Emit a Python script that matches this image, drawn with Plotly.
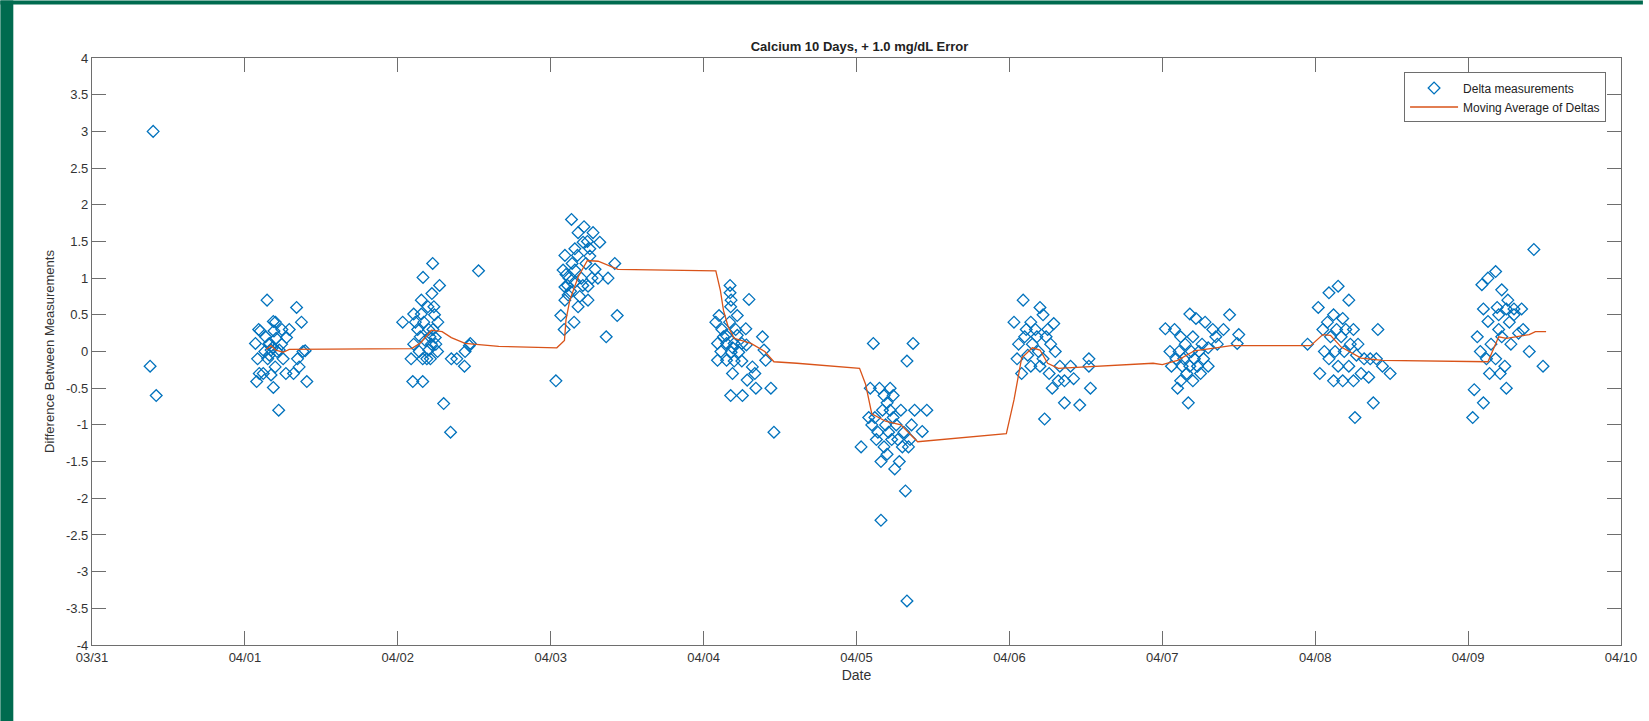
import pandas as pd
import plotly.graph_objects as go

# Sample times, in days after 03/31 00:00, and the delta of each measurement pair
delta_days = [
    0.40, 0.38, 0.42,
    1.145, 1.338, 1.370, 1.090, 1.186, 1.200, 1.242, 1.290, 1.272, 1.069, 1.160, 1.171, 1.225, 1.394, 1.380,
    1.344, 1.083, 1.149, 1.198, 1.355, 1.094, 1.268, 1.318, 1.171, 1.077, 1.405, 1.186, 1.221, 1.100, 1.130,
    1.180, 1.210, 1.160, 1.250, 1.135, 1.205, 1.240, 1.190, 1.120, 1.155,
    2.228, 2.528, 2.165, 2.273, 2.223, 2.154, 2.197, 2.236, 2.104, 2.154, 2.032, 2.115, 2.262, 2.202, 2.230,
    2.147, 2.245, 2.104, 2.249, 2.474, 2.468, 2.202, 2.440, 2.087, 2.163, 2.213, 2.350, 2.386, 2.436, 2.098,
    2.163, 2.300, 2.345, 2.180, 2.210, 2.130, 2.260, 2.190, 2.220, 2.170, 2.140, 2.240,
    3.136, 3.218, 3.179, 3.277, 3.321, 3.212, 3.158, 3.256, 3.093, 3.175, 3.256, 3.419, 3.081, 3.158, 3.290,
    3.200, 3.309, 3.375, 3.093, 3.244, 3.114, 3.190, 3.244, 3.093, 3.179, 3.066, 3.435, 3.153, 3.088, 3.363,
    3.034, 3.120, 3.140, 3.230, 3.100, 3.210, 3.130, 3.160, 3.270, 3.240, 3.110,
    4.173, 4.173, 4.297, 4.180, 4.177, 4.101, 4.220, 4.080, 4.170, 4.276, 4.147, 4.220, 4.385, 4.091, 4.150,
    4.200, 4.250, 4.280, 4.395, 4.113, 4.180, 4.230, 4.091, 4.150, 4.200, 4.250, 4.406, 4.319, 4.189, 4.335,
    4.285, 4.342, 4.440, 4.177, 4.254, 4.460, 4.120, 4.210, 4.130, 4.190,
    5.11, 5.37, 5.33, 5.03, 5.09, 5.16, 5.32, 5.33, 5.28, 5.43, 5.46, 5.38, 5.25, 5.15, 5.18, 5.20, 5.22,
    5.24, 5.17, 5.12, 5.10, 5.14, 5.19, 5.21, 5.26, 5.23, 5.18, 5.13, 5.30, 5.27, 5.29, 5.31, 5.35, 5.08,
    5.20, 5.16, 5.24, 5.22, 5.34, 5.36,
    6.09, 6.20, 6.22, 6.03, 6.29, 6.14, 6.17, 6.10, 6.24, 6.15, 6.27, 6.06, 6.19, 6.12, 6.30, 6.22, 6.08,
    6.14, 6.26, 6.32, 6.36, 6.23, 6.46, 6.36, 6.53, 6.52, 6.52, 6.40, 6.42, 6.18, 6.25, 6.11, 6.33, 6.28,
    6.05, 6.20,
    7.18, 7.44, 7.50, 7.02, 7.17, 7.10, 7.49, 7.08, 7.22, 7.28, 7.33, 7.12, 7.20, 7.26, 7.15, 7.05, 7.11,
    7.19, 7.24, 7.30, 7.36, 7.09, 7.14, 7.21, 7.27, 7.06, 7.13, 7.18, 7.23, 7.30, 7.16, 7.25, 7.12, 7.35,
    7.40, 7.20,
    8.15, 8.09, 8.22, 8.02, 7.95, 8.26, 8.38, 8.41, 8.49, 8.12, 8.18, 8.08, 8.14, 8.20, 8.25, 8.05, 8.10,
    8.17, 8.23, 8.28, 8.06, 8.13, 8.19, 8.27, 8.32, 8.36, 8.40, 8.09, 8.15, 8.22, 8.30, 8.12, 8.18, 8.25,
    8.35, 8.03, 8.44,
    9.43, 9.18, 9.13, 9.09, 9.22, 9.10, 9.25, 9.30, 9.35, 9.13, 9.06, 9.04, 9.03, 9.10, 9.25, 9.40, 9.49,
    9.20, 9.27, 9.33, 9.08, 9.15, 9.22, 9.18, 9.24, 9.28, 9.21, 9.14, 9.36, 9.19, 9.26, 9.30, 9.12, 9.20,
]
delta_values = [
    3.0, -0.2, -0.6,
    0.70, 0.60, 0.40, 0.30, 0.41, 0.40, 0.30, 0.30, 0.19, 0.11, 0.11, 0.02, 0.02, 0.01, 0.00,
    -0.10, -0.10, -0.10, -0.21, -0.21, -0.30, -0.30, -0.30, -0.32, -0.41, -0.41, -0.49, -0.80, 0.28, 0.00,
    0.05, 0.00, -0.05, -0.10, 0.20, 0.18, 0.10, 0.28, -0.30, 0.10,
    1.20, 1.10, 1.01, 0.90, 0.79, 0.70, 0.61, 0.61, 0.51, 0.51, 0.40, 0.40, 0.40, 0.30, 0.30,
    0.20, 0.19, 0.10, 0.10, 0.11, 0.08, 0.02, 0.00, -0.10, -0.10, -0.10, -0.10, -0.10, -0.20, -0.41,
    -0.41, -0.71, -1.10, 0.15, 0.20, 0.30, 0.00, -0.10, 0.10, 0.40, 0.00, 0.50,
    1.80, 1.70, 1.62, 1.62, 1.49, 1.49, 1.40, 1.40, 1.31, 1.31, 1.30, 1.20, 1.11, 1.11, 1.12,
    1.00, 1.00, 1.00, 0.88, 0.89, 0.77, 0.75, 0.70, 0.70, 0.61, 0.49, 0.49, 0.40, 0.30, 0.20,
    -0.40, 1.00, 1.20, 1.20, 1.05, 0.90, 0.82, 0.95, 1.00, 1.50, 0.90,
    0.90, 0.80, 0.71, 0.70, 0.61, 0.49, 0.49, 0.40, 0.40, 0.31, 0.22, 0.22, 0.20, 0.11, 0.11,
    0.11, 0.11, 0.09, 0.02, 0.00, -0.01, -0.01, -0.12, -0.12, -0.13, -0.13, -0.12, -0.21, -0.30, -0.30,
    -0.39, -0.50, -0.50, -0.60, -0.60, -1.10, 0.30, 0.30, 0.20, 0.05,
    0.11, 0.11, -0.13, -1.30, -0.50, -2.30, -1.90, -3.40, -1.50, -1.09, -0.80, -0.80, -1.60, -0.50, -0.60, -0.70, -0.80,
    -0.90, -0.80, -0.90, -1.00, -1.10, -1.00, -1.10, -1.00, -1.20, -1.30, -1.20, -1.30, -1.20, -0.80, -1.10, -1.20, -0.90,
    -1.40, -1.50, -0.60, -0.50, -1.30, -1.00,
    0.70, 0.60, 0.50, 0.40, 0.38, 0.40, 0.30, 0.20, 0.20, 0.10, 0.10, 0.10, 0.00, -0.05, 0.00, -0.10, -0.30,
    -0.20, -0.30, -0.40, -0.40, -0.92, -0.73, -0.70, -0.50, -0.10, -0.20, -0.20, -0.37, 0.20, 0.30, 0.30, -0.20, -0.50,
    -0.10, -0.20,
    0.51, 0.50, 0.23, 0.31, -0.70, -0.50, 0.11, 0.30, 0.45, 0.40, 0.30, 0.20, 0.20, 0.10, 0.10, 0.00, 0.00,
    0.00, 0.00, 0.05, 0.10, -0.10, -0.10, -0.10, -0.10, -0.20, -0.20, -0.20, -0.20, -0.20, -0.30, -0.30, -0.40, 0.20,
    0.30, -0.40,
    0.89, 0.80, 0.70, 0.60, 0.10, -0.90, -0.70, 0.30, -0.30, 0.50, 0.45, 0.40, 0.30, 0.30, 0.30, 0.30, 0.20,
    0.20, 0.10, 0.10, 0.00, 0.00, 0.00, -0.05, -0.10, -0.10, -0.10, -0.10, -0.20, -0.20, -0.30, -0.40, -0.40, -0.40,
    -0.35, -0.30, -0.20,
    1.39, 1.09, 1.00, 0.91, 0.84, 0.58, 0.58, 0.58, 0.58, 0.41, 0.20, -0.52, -0.90, -0.70, -0.50, 0.00, -0.20,
    0.30, 0.40, 0.25, 0.00, 0.10, 0.20, -0.10, -0.20, 0.10, -0.30, -0.30, 0.30, 0.60, 0.70, 0.50, -0.10, 0.50,
]

# Moving average of the deltas
avg_days = [
    1.14, 1.17, 1.20, 1.25, 1.29, 1.35, 2.09, 2.15, 2.22, 2.29, 2.35, 2.44, 2.66, 3.04, 3.09, 3.10, 3.125,
    3.18, 3.24, 3.31, 3.375, 3.44, 4.08, 4.11, 4.13, 4.16, 4.20, 4.31, 4.40, 4.46, 4.61, 5.02, 5.06, 5.10,
    5.19, 5.29, 5.40, 5.98, 6.03, 6.08, 6.15, 6.20, 6.25, 6.32, 6.94, 7.00, 7.10, 7.21, 7.35, 7.45, 7.97,
    8.05, 8.10, 8.17, 8.30, 8.44, 9.13, 9.20, 9.25, 9.40, 9.44, 9.51,
]
avg_values = [
    0.03, 0.08, 0.02, -0.01, 0.03, 0.03, 0.04, 0.12, 0.29, 0.27, 0.19, 0.11, 0.07, 0.05, 0.15, 0.43, 0.70,
    1.02, 1.24, 1.23, 1.18, 1.12, 1.10, 0.83, 0.56, 0.34, 0.18, 0.11, 0.00, -0.14, -0.16, -0.23, -0.45, -0.85,
    -0.95, -1.00, -1.23, -1.12, -0.66, -0.09, 0.05, 0.02, -0.16, -0.23, -0.16, -0.18, -0.12, 0.01, 0.05, 0.08, 0.08,
    0.23, 0.22, 0.06, -0.09, -0.12, -0.14, 0.20, 0.18, 0.23, 0.27, 0.27,
]

y_ticks = [-4, -3.5, -3, -2.5, -2, -1.5, -1, -0.5, 0, 0.5, 1, 1.5, 2, 2.5, 3, 3.5, 4]
y_tick_labels = [f"{v:g}" for v in y_ticks]

start = pd.Timestamp("2017-03-31")
end = pd.Timestamp("2017-04-10")


def to_time(days):
    return start + pd.to_timedelta(pd.Series(days), unit="D")


BLUE = "#0072BD"
ORANGE = "#D95319"
AXIS = "#6e6e6e"
FONT = "Liberation Sans, Arial, sans-serif"

fig = go.Figure()
fig.add_trace(go.Scatter(
    x=to_time(delta_days), y=delta_values, mode="markers", name="Delta measurements",
    marker=dict(symbol="diamond-open", size=9, color=BLUE, line=dict(width=1.3, color=BLUE)),
))
fig.add_trace(go.Scatter(
    x=to_time(avg_days), y=avg_values, mode="lines", name="Moving Average of Deltas",
    line=dict(color=ORANGE, width=1.3),
))

L, R, T, B = 92, 22, 57.5, 76
W, H = 1649, 721
pw, ph = W - L - R, H - T - B

# dark green frame strips on the left and top edges of the page
fig.add_shape(type="rect", xref="paper", yref="paper", layer="below",
              x0=-L / pw, x1=(13 - L) / pw, y0=-B / ph, y1=(H - B) / ph,
              fillcolor="#006b4f", line_width=0)
fig.add_shape(type="rect", xref="paper", yref="paper", layer="below",
              x0=-L / pw, x1=(W - L) / pw, y0=(H - B - 4) / ph, y1=(H - B) / ph,
              fillcolor="#006b4f", line_width=0)

axis_common = dict(
    showline=True, linecolor=AXIS, linewidth=1.2, mirror="ticks",
    ticks="inside", ticklen=14, tickcolor=AXIS, tickwidth=1.2,
    showgrid=False, zeroline=False,
    tickfont=dict(family=FONT, size=13, color="#333333"),
)

fig.update_layout(
    width=W, height=H,
    margin=dict(l=L, r=R, t=T, b=B),
    paper_bgcolor="white", plot_bgcolor="white",
    showlegend=True,
    title=dict(text="<b>Calcium 10 Days, + 1.0 mg/dL Error</b>", x=(L + pw / 2) / W, xanchor="center",
               y=1 - 46 / H, yanchor="middle", font=dict(family=FONT, size=13, color="#222222")),
    xaxis=dict(
        range=[start, end], tickformat="%m/%d", dtick=86400000, tick0=start,
        title=dict(text="Date", standoff=6, font=dict(family=FONT, size=14, color="#333333")),
        **axis_common,
    ),
    yaxis=dict(
        range=[-4, 4], tickvals=y_ticks, ticktext=y_tick_labels,
        title=dict(text="Difference Between Measurements", standoff=8,
                   font=dict(family=FONT, size=13, color="#333333")),
        **axis_common,
    ),
    legend=dict(
        x=(1612 - L) / pw, xanchor="right", y=1 - (72 - T) / ph, yanchor="top",
        bgcolor="white", bordercolor=AXIS, borderwidth=1,
        font=dict(family=FONT, size=12, color="#222222"),
        tracegroupgap=0, itemwidth=48,
    ),
)

fig.write_html("out.html")
